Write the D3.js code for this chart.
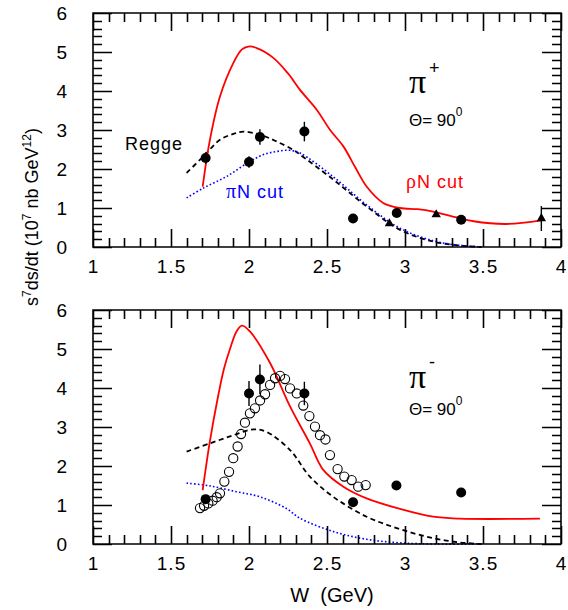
<!DOCTYPE html>
<html>
<head>
<meta charset="utf-8">
<script src="https://cdn.jsdelivr.net/npm/d3@7"></script>
<style>
  body { margin: 0; background: #fff; }
  svg text { font-family: "Liberation Sans", Arial, Helvetica, sans-serif; }
  svg .serif { font-family: "Liberation Serif", "Times New Roman", serif; }
</style>
</head>
<body>
<svg id="chart" width="568" height="610"></svg>
<script>
// axis ticks
const xTicks = [1, 1.5, 2, 2.5, 3, 3.5, 4];
const xTickLabels = ['1', '1.5', '2', '2.5', '3', '3.5', '4'];
const yTicks = [0, 1, 2, 3, 4, 5, 6];

// pi+ panel: curves as [W, value]
const plusRho = [[1.703,1.55],[1.75,2.76],[1.814,3.86],[1.90,4.72],[1.953,5.06],[1.995,5.14],[2.05,5.10],[2.156,4.85],[2.25,4.45],[2.327,4.03],[2.434,3.52],[2.52,3.0],[2.605,2.58],[2.68,2.05],[2.754,1.55],[2.86,1.13],[2.968,1.0],[3.08,0.97],[3.18,0.91],[3.29,0.80],[3.44,0.66],[3.65,0.59],[3.874,0.68]];
const plusRegge = [[1.60,1.90],[1.707,2.32],[1.814,2.75],[1.90,2.90],[1.964,2.96],[2.07,2.88],[2.18,2.70],[2.284,2.49],[2.327,2.37],[2.54,1.73],[2.754,1.04],[2.968,0.44],[3.18,0.14],[3.35,0.04],[3.49,0.0]];
const plusPiN = [[1.60,1.26],[1.707,1.51],[1.857,1.81],[2.0,2.18],[2.1,2.38],[2.178,2.45],[2.26,2.48],[2.327,2.41],[2.54,1.80],[2.754,1.08],[2.968,0.48],[3.18,0.16],[3.35,0.04],[3.49,0.0]];
// data points: [W, value, error]
const plusCircles = [[1.722,2.28,0.15],[2.0,2.18,0.15],[2.07,2.82,0.2],[2.355,2.96,0.25],[2.667,0.73,0],[2.947,0.87,0],[3.36,0.70,0]];
const plusTriangles = [[2.90,0.60,0],[3.20,0.83,0],[3.874,0.73,0.32]];

// pi- panel
const minusRho = [[1.703,1.38],[1.75,2.65],[1.80,3.75],[1.84,4.5],[1.878,5.0],[1.92,5.45],[1.955,5.6],[2.006,5.45],[2.135,4.64],[2.263,3.53],[2.39,2.58],[2.476,1.90],[2.605,1.47],[2.754,1.17],[2.968,0.90],[3.18,0.70],[3.35,0.65],[3.865,0.65]];
const minusRegge = [[1.60,2.37],[1.75,2.58],[1.90,2.79],[2.03,2.94],[2.11,2.88],[2.263,2.41],[2.39,1.73],[2.54,1.21],[2.754,0.70],[2.968,0.38],[3.18,0.15],[3.35,0.04],[3.49,0.0]];
const minusPiN = [[1.60,1.56],[1.75,1.49],[1.92,1.34],[2.07,1.21],[2.24,0.91],[2.327,0.66],[2.54,0.32],[2.754,0.12],[2.968,0.03],[3.2,0.0],[3.49,0.0]];
const minusCircles = [[1.722,1.15,0.1],[2.0,3.86,0.32],[2.07,4.22,0.38],[2.355,3.86,0.3],[2.667,1.07,0],[2.945,1.50,0],[3.36,1.32,0]];
const minusOpen = [[1.686,0.92],[1.712,0.98],[1.739,1.04],[1.767,1.11],[1.793,1.20],[1.814,1.30],[1.842,1.60],[1.872,1.85],[1.899,2.20],[1.927,2.50],[1.949,2.82],[1.974,3.11],[2.006,3.35],[2.038,3.48],[2.071,3.68],[2.103,3.84],[2.135,4.08],[2.167,4.25],[2.199,4.31],[2.231,4.23],[2.263,3.99],[2.306,3.86],[2.348,3.55],[2.387,3.28],[2.423,3.01],[2.455,2.79],[2.49,2.68],[2.519,2.28],[2.568,1.92],[2.611,1.73],[2.658,1.64],[2.70,1.47],[2.748,1.51]];

const svg = d3.select('#chart');
const x = d3.scaleLinear().domain([1, 4]).range([93, 561]);
const xMinor = d3.range(1, 4.001, 0.1).filter(v => Math.abs(v * 2 - Math.round(v * 2)) > 1e-6);
const yMinor = d3.range(0, 6.001, 0.2).filter(v => Math.abs(v - Math.round(v)) > 1e-6);

const line = d3.line()
  .x(d => x(d[0]))
  .curve(d3.curveCatmullRom.alpha(0.5));

function drawPanel(y, curves, circles, triangles, open) {
  const g = svg.append('g');
  const y0 = y.range()[0], y1 = y.range()[1];
  const xl = x(1), xr = x(4);

  // tick labels
  g.append('g').attr('transform', `translate(0,${y0})`)
    .call(d3.axisBottom(x).tickValues(xTicks).tickSize(0).tickPadding(13)
      .tickFormat((d, i) => xTickLabels[i]))
    .call(s => s.select('.domain').remove())
    .attr('font-size', 19).attr('font-family', null).attr('letter-spacing', 1);
  g.append('g').attr('transform', `translate(${xl},0)`)
    .call(d3.axisLeft(y).tickValues(yTicks).tickFormat(d3.format('d')).tickSize(0).tickPadding(26))
    .call(s => s.select('.domain').remove())
    .attr('font-size', 19).attr('font-family', null);

  line.y(d => y(d[1]));
  g.append('path').attr('d', line(curves.regge))
    .attr('fill', 'none').attr('stroke', '#000').attr('stroke-width', 1.8)
    .attr('stroke-dasharray', '5,3.5');
  g.append('path').attr('d', line(curves.piN))
    .attr('fill', 'none').attr('stroke', '#0000ff').attr('stroke-width', 1.6)
    .attr('stroke-dasharray', '1.6,2.2');
  g.append('path').attr('d', line(curves.rho))
    .attr('fill', 'none').attr('stroke', '#ff0000').attr('stroke-width', 1.8);

  if (open) {
    g.append('g').selectAll('circle').data(open).enter().append('circle')
      .attr('cx', d => x(d[0])).attr('cy', d => y(d[1])).attr('r', 4.6)
      .attr('fill', 'none').attr('stroke', '#000').attr('stroke-width', 1.1);
  }

  const pts = circles.concat(triangles);
  g.append('g').selectAll('line').data(pts.filter(d => d[2] > 0)).enter().append('line')
    .attr('x1', d => x(d[0])).attr('x2', d => x(d[0]))
    .attr('y1', d => y(d[1] - d[2])).attr('y2', d => y(d[1] + d[2]))
    .attr('stroke', '#000').attr('stroke-width', 1.4);
  g.append('g').selectAll('circle').data(circles).enter().append('circle')
    .attr('cx', d => x(d[0])).attr('cy', d => y(d[1])).attr('r', 5)
    .attr('fill', '#000');
  g.append('g').selectAll('path').data(triangles).enter().append('path')
    .attr('d', d3.symbol(d3.symbolTriangle, 38))
    .attr('transform', d => `translate(${x(d[0])},${y(d[1])})`)
    .attr('fill', '#000');

  // frame and inward ticks on all four sides, in one path
  const p = d3.path();
  p.rect(xl, y1, xr - xl, y0 - y1);
  xMinor.map(v => [v, 9]).concat(xTicks.map(v => [v, 18])).forEach(([v, L]) => {
    const xv = Math.round(x(v)) + 0.5;
    p.moveTo(xv, y0); p.lineTo(xv, y0 - L);
    p.moveTo(xv, y1); p.lineTo(xv, y1 + L);
  });
  yMinor.map(v => [v, 9]).concat(yTicks.map(v => [v, 19])).forEach(([v, L]) => {
    const yv = Math.round(y(v)) + 0.5;
    p.moveTo(xl, yv); p.lineTo(xl + L, yv);
    p.moveTo(xr, yv); p.lineTo(xr - L, yv);
  });
  g.append('path')
    .attr('d', p.toString())
    .attr('fill', 'none').attr('stroke', '#000').attr('stroke-width', 1.6);
  return g;
}

const yTop = d3.scaleLinear().domain([0, 6]).range([247, 13]);
const yBot = d3.scaleLinear().domain([0, 6]).range([544, 310]);

drawPanel(yTop, { rho: plusRho, regge: plusRegge, piN: plusPiN }, plusCircles, plusTriangles, null);
drawPanel(yBot, { rho: minusRho, regge: minusRegge, piN: minusPiN }, minusCircles, [], minusOpen);

// annotations
function piLabel(px, py, sign, sx, sy) {
  svg.append('text').attr('class', 'serif').attr('x', px).attr('y', py)
    .attr('font-size', 34).text('π');
  svg.append('text').attr('x', sx).attr('y', sy)
    .attr('font-size', 18).text(sign);
}
function thetaLabel(px, py) {
  const t = svg.append('text').attr('x', px).attr('y', py).attr('font-size', 17);
  t.append('tspan').text('Θ= 90');
  t.append('tspan').attr('dy', -10).attr('font-size', 12).text('0');
}
piLabel(409, 93, '+', 429, 74);
thetaLabel(409, 126);
piLabel(409, 388, '-', 429, 368);
thetaLabel(409, 415);

svg.append('text').attr('x', 125).attr('y', 150).attr('font-size', 18)
  .attr('letter-spacing', 1).text('Regge');
const pn = svg.append('text').attr('x', 226).attr('y', 198).attr('font-size', 18)
  .attr('letter-spacing', 1).attr('fill', '#0000ff');
pn.append('tspan').attr('class', 'serif').attr('font-size', 20).text('π');
pn.append('tspan').text('N cut');
const rn = svg.append('text').attr('x', 406).attr('y', 188).attr('font-size', 18)
  .attr('letter-spacing', 1).attr('fill', '#ff0000');
rn.append('tspan').attr('class', 'serif').attr('font-size', 20).text('ρ');
rn.append('tspan').text('N cut');

// axis titles
svg.append('text').attr('x', 332).attr('y', 602).attr('font-size', 20)
  .attr('text-anchor', 'middle').style('white-space', 'pre')
  .text('W  (GeV)');

const yl = svg.append('text').attr('transform', 'translate(38,217) rotate(-90)')
  .attr('font-size', 18).attr('text-anchor', 'middle');
yl.append('tspan').text('s');
yl.append('tspan').attr('dy', -7).attr('font-size', 12).text('7');
yl.append('tspan').attr('dy', 7).text('ds/dt (10');
yl.append('tspan').attr('dy', -7).attr('font-size', 12).text('7');
yl.append('tspan').attr('dy', 7).text(' nb GeV');
yl.append('tspan').attr('dy', -7).attr('font-size', 12).text('12');
yl.append('tspan').attr('dy', 7).text(')');
</script>
</body>
</html>
